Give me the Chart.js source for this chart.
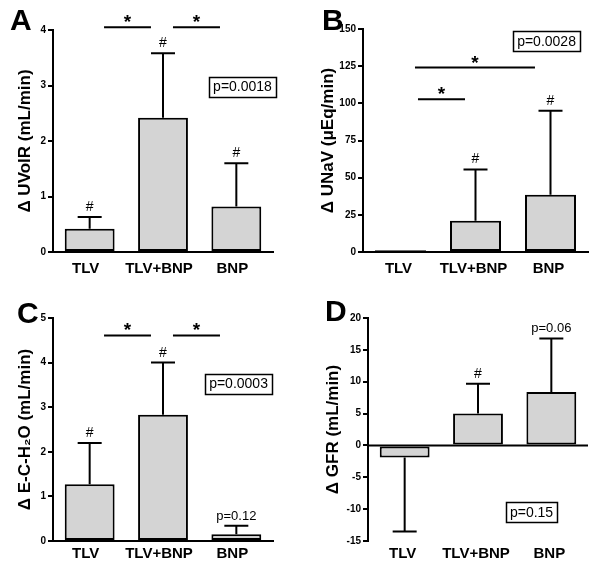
<!DOCTYPE html>
<html>
<head>
<meta charset="utf-8">
<script src="https://cdn.jsdelivr.net/npm/chart.js@4.4.1/dist/chart.umd.min.js"></script>
<style>
  html, body { margin: 0; padding: 0; background: #fff; }
  #wrap { position: relative; width: 600px; height: 567px; background: #fff; overflow: hidden; }
  canvas { position: absolute; }
</style>
</head>
<body>
<div id="wrap">
  <canvas id="cA" width="300" height="285" style="left:0;top:0"></canvas>
  <canvas id="cB" width="300" height="285" style="left:300px;top:0"></canvas>
  <canvas id="cC" width="300" height="282" style="left:0;top:285px"></canvas>
  <canvas id="cD" width="300" height="282" style="left:300px;top:285px"></canvas>
</div>
<script>
// ---- data ----
const categories = ['TLV', 'TLV+BNP', 'BNP'];

const uvolMean = [0.42, 2.42, 0.82];
const uvolErr  = [0.21, 1.16, 0.78];
const uvolMarks = ['#', '#', '#'];

const unavMean = [1.2, 21, 38.5];
const unavErr  = [0, 34.5, 56.5];
const unavMarks = ['', '#', '#'];

const echMean = [1.27, 2.83, 0.15];
const echErr  = [0.93, 1.17, 0.19];
const echMarks = ['#', '#', 'p=0.12'];

const gfrMean = [-1.9, 5.0, 8.4];
const gfrErr  = [11.6, 4.7, 8.4];
const gfrMarks = ['', '#', 'p=0.06'];

const FONT = '"Liberation Sans", Arial, sans-serif';

const panels = [
  { id: 'cA', letter: 'A', letterPos: [10, 30], mean: uvolMean, err: uvolErr, marks: uvolMarks,
    area: { left: 53, top: 30, right: 273, bottom: 252 }, h: 285, labelPad: 8, labelShift: -4, titlePad: 15,
    y: { min: 0, max: 4, step: 1 }, title: 'Δ UVolR (mL/min)',
    sig: [[0.196, 0.836, 4.05], [1.136, 1.777, 4.05]],
    pbox: { text: 'p=0.0018', x: 2.084, y: 2.98 }, zeroLine: false },
  { id: 'cB', letter: 'B', letterPos: [22, 30], mean: unavMean, err: unavErr, marks: unavMarks,
    area: { left: 63, top: 29, right: 288, bottom: 252 }, h: 285, labelPad: 8, labelShift: -2, titlePad: 18,
    y: { min: 0, max: 150, step: 25 }, title: 'Δ UNaV (μEq/min)',
    sig: [[0.193, 1.793, 124.1], [0.233, 0.86, 102.7]],
    pbox: { text: 'p=0.0028', x: 1.947, y: 141.9 }, zeroLine: false },
  { id: 'cC', letter: 'C', letterPos: [17, 38], mean: echMean, err: echErr, marks: echMarks,
    area: { left: 53, top: 33, right: 273, bottom: 256 }, h: 282, labelPad: 4, labelShift: -4, titlePad: 15,
    y: { min: 0, max: 5, step: 1 }, title: 'Δ E-C-H₂O (mL/min)',
    sig: [[0.196, 0.836, 4.61], [1.136, 1.777, 4.61]],
    pbox: { text: 'p=0.0003', x: 2.03, y: 3.53 }, zeroLine: false },
  { id: 'cD', letter: 'D', letterPos: [25, 36], mean: gfrMean, err: gfrErr, marks: gfrMarks,
    area: { left: 68, top: 33, right: 288, bottom: 256 }, h: 282, labelPad: 4, labelShift: -2, titlePad: 23,
    y: { min: -15, max: 20, step: 5 }, title: 'Δ GFR (mL/min)',
    sig: [],
    pbox: { text: 'p=0.15', x: 1.73, y: -10.45 }, zeroLine: true }
];

const overlay = {
  id: 'overlay',
  afterDraw(chart) {
    const p = chart.config.options.plugins.overlay;
    const ctx = chart.ctx;
    const xs = chart.scales.x, ys = chart.scales.y;
    const area = chart.chartArea;
    ctx.save();
    ctx.strokeStyle = '#000';
    ctx.fillStyle = '#000';
    // zero line
    if (p.zeroLine) {
      const y0 = ys.getPixelForValue(0);
      ctx.lineWidth = 2;
      ctx.beginPath();
      ctx.moveTo(area.left, y0);
      ctx.lineTo(area.right, y0);
      ctx.stroke();
    }
    // error bars & marks
    const meta = chart.getDatasetMeta(0);
    meta.data.forEach((bar, i) => {
      const v = p.mean[i], e = p.err[i];
      const end = v >= 0 ? v + e : v - e;
      const yv = ys.getPixelForValue(v), ye = ys.getPixelForValue(end);
      if (e > 0) {
        ctx.lineWidth = 2;
        ctx.beginPath();
        ctx.moveTo(bar.x, yv);
        ctx.lineTo(bar.x, ye);
        ctx.moveTo(bar.x - 12, ye);
        ctx.lineTo(bar.x + 12, ye);
        ctx.stroke();
      }
      const m = p.marks[i];
      if (m) {
        ctx.textAlign = 'center';
        ctx.textBaseline = 'alphabetic';
        ctx.font = (m === '#' ? '14px ' : '13px ') + FONT;
        ctx.fillText(m, bar.x, ye - 6);
      }
    });
    // significance lines
    p.sig.forEach(([a, b, val]) => {
      const x1 = xs.getPixelForValue(a), x2 = xs.getPixelForValue(b);
      const y = ys.getPixelForValue(val);
      ctx.lineWidth = 2;
      ctx.beginPath();
      ctx.moveTo(x1, y);
      ctx.lineTo(x2, y);
      ctx.stroke();
      ctx.font = 'bold 19px ' + FONT;
      ctx.textAlign = 'center';
      ctx.textBaseline = 'alphabetic';
      ctx.fillText('*', (x1 + x2) / 2, y + 1);
    });
    // p-value box
    if (p.pbox) {
      const cx = xs.getPixelForValue(p.pbox.x), cy = ys.getPixelForValue(p.pbox.y);
      ctx.font = '14px ' + FONT;
      const w = ctx.measureText(p.pbox.text).width + 8;
      const h = 20;
      ctx.lineWidth = 1.5;
      ctx.strokeRect(Math.round(cx - w / 2) + 0.5, Math.round(cy - h / 2) + 0.5, Math.round(w), h);
      ctx.textAlign = 'center';
      ctx.textBaseline = 'middle';
      ctx.fillText(p.pbox.text, cx, cy + 1);
    }
    // panel letter
    ctx.font = 'bold 30px ' + FONT;
    ctx.textAlign = 'left';
    ctx.textBaseline = 'alphabetic';
    ctx.fillText(p.letter, p.letterPos[0], p.letterPos[1]);
    ctx.restore();
  }
};

panels.forEach(pn => {
  const canvas = document.getElementById(pn.id);
  new Chart(canvas, {
    type: 'bar',
    data: {
      labels: categories,
      datasets: [{
        data: pn.mean,
        backgroundColor: '#d4d4d4',
        borderColor: '#000',
        borderWidth: 2,
        borderSkipped: false,
        categoryPercentage: 1,
        barPercentage: 0.68
      }]
    },
    options: {
      responsive: false,
      devicePixelRatio: 1,
      animation: false,
      events: [],
      layout: { padding: { left: 0, top: pn.area.top, right: canvas.width - pn.area.right, bottom: 0 } },
      plugins: {
        legend: { display: false },
        tooltip: { enabled: false },
        overlay: { mean: pn.mean, err: pn.err, marks: pn.marks, sig: pn.sig, pbox: pn.pbox,
                   zeroLine: pn.zeroLine, letter: pn.letter, letterPos: pn.letterPos }
      },
      scales: {
        x: {
          afterFit: s => { s.height = pn.h - pn.area.bottom; },
          grid: { display: false, drawTicks: false },
          border: { display: !pn.zeroLine, color: '#000', width: 2 },
          ticks: { color: '#000', font: { family: FONT, size: 15, weight: 'bold' }, padding: pn.labelPad,
                   labelOffset: pn.labelShift, maxRotation: 0 }
        },
        y: {
          min: pn.y.min, max: pn.y.max,
          afterFit: s => { s.width = pn.area.left; },
          grid: { drawOnChartArea: false, drawTicks: true, tickLength: 5, color: '#000', lineWidth: 2 },
          border: { display: true, color: '#000', width: 2 },
          ticks: { stepSize: pn.y.step, color: '#000', padding: 2, font: { family: FONT, size: 10, weight: 'bold' } },
          title: { display: true, text: pn.title, color: '#000', padding: { top: pn.titlePad, bottom: 0 },
                   font: { family: FONT, size: 17, weight: 'bold' } }
        }
      }
    },
    plugins: [overlay]
  });
});
</script>
</body>
</html>
